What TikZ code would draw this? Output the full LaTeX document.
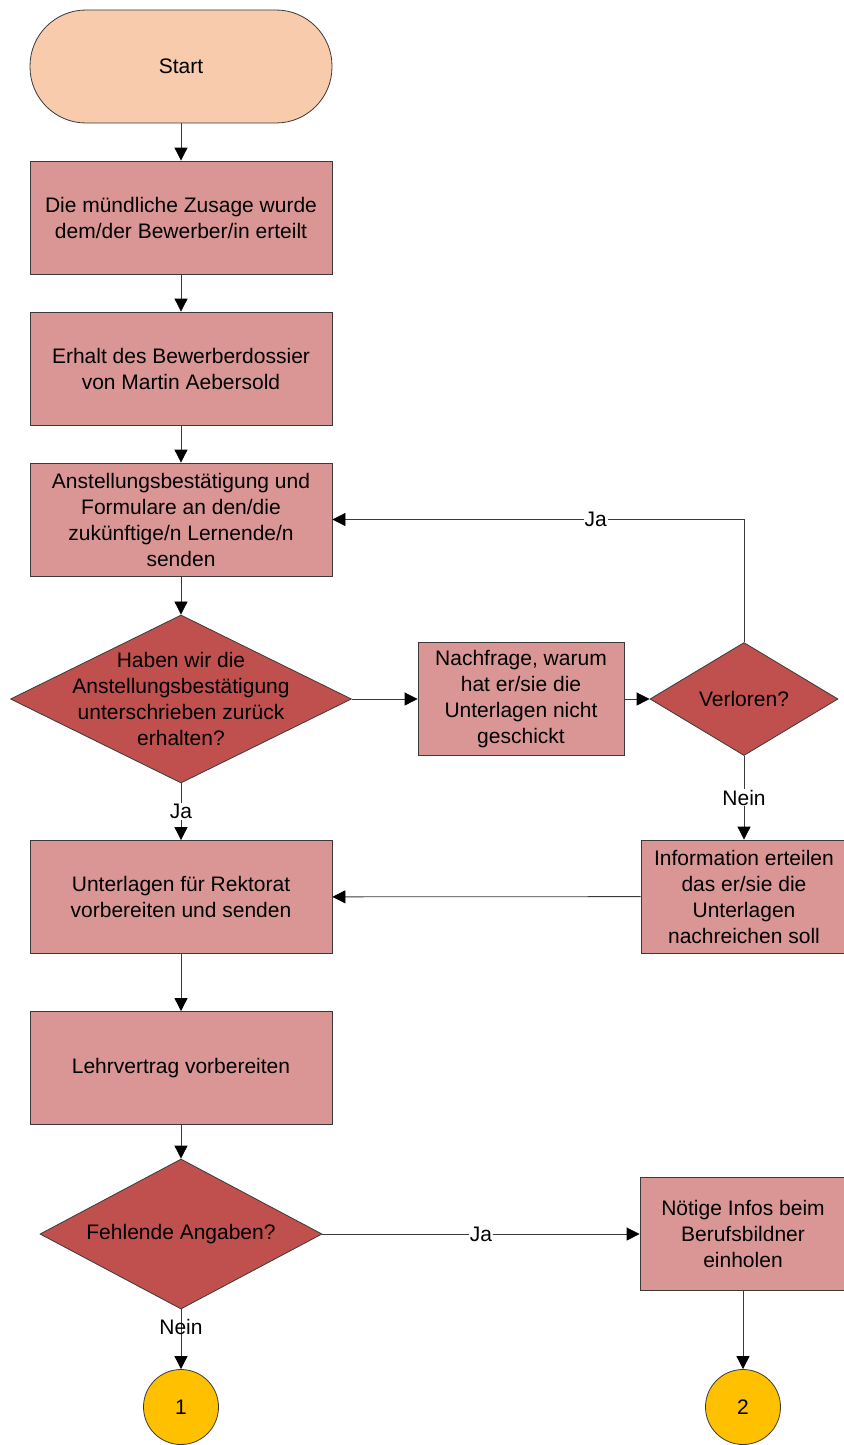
\documentclass[tikz,border=0pt]{standalone}
\usepackage{fontspec}
\setmainfont{Liberation Sans}
\usetikzlibrary{shapes,arrows.meta}
\definecolor{startfill}{HTML}{F8CBAD}
\definecolor{blockfill}{HTML}{DA9694}
\definecolor{decfill}{HTML}{C0504D}
\definecolor{connfill}{HTML}{FFC000}
\definecolor{linecol}{HTML}{3A3A3A}
\tikzset{
    base/.style = {draw=linecol, line width=0.8pt, align=center, inner sep=0pt,
        font=\fontsize{21}{26}\selectfont},
    terminal/.style = {base, rectangle, rounded corners=56pt, fill=startfill,
        minimum width=302pt, minimum height=113pt},
    block/.style = {base, rectangle, fill=blockfill,
        minimum width=302pt, minimum height=113pt},
    smallblock/.style = {base, rectangle, fill=blockfill,
        minimum width=206pt, minimum height=113pt},
    decision/.style = {base, diamond, fill=decfill},
    dectext/.style = {align=center, font=\fontsize{21}{26}\selectfont},
    connector/.style = {base, circle, fill=connfill, minimum size=75pt},
    arrow/.style = {draw=linecol, line width=0.8pt, -{Triangle[length=13pt,width=13pt,color=black]}},
    edgelabel/.style = {fill=white, inner sep=1pt, font=\fontsize{21}{26}\selectfont}
}

\begin{document}
\begin{tikzpicture}
    \useasboundingbox (0,0) rectangle (843pt,-1445pt);
    % left column
    \node [terminal] (start) at (181pt,-66.5pt) {Start};
    \node [block, below of=start, node distance=151pt] (zusage) {Die mündliche Zusage wurde\\dem/der Bewerber/in erteilt};
    \node [block, below of=zusage, node distance=151pt] (dossier) {Erhalt des Bewerberdossier\\von Martin Aebersold};
    \node [block, below of=dossier, node distance=151pt] (bestaetigung) {Anstellungsbestätigung und\\Formulare an den/die\\zukünftige/n Lernende/n\\senden};
    \node [decision, below of=bestaetigung, node distance=179.5pt, minimum width=341pt, minimum height=168pt,
        label={[dectext]center:{Haben wir die\\Anstellungsbestätigung\\unterschrieben zurück\\erhalten?}}] (zurueck) {};
    \node [block, below of=zurueck, node distance=198pt] (rektorat) {Unterlagen für Rektorat\\vorbereiten und senden};
    \node [block, below of=rektorat, node distance=171pt] (lehrvertrag) {Lehrvertrag vorbereiten};
    \node [decision, below of=lehrvertrag, node distance=166pt, minimum width=282pt, minimum height=150pt,
        label={[dectext]center:{Fehlende Angaben?}}] (fehlend) {};
    \node [connector, below of=fehlend, node distance=173pt] (con1) {1};
    % right column
    \node [smallblock, right of=zurueck, node distance=340pt] (nachfrage) {Nachfrage, warum\\hat er/sie die\\Unterlagen nicht\\geschickt};
    \node [decision, right of=nachfrage, node distance=223pt, minimum width=188pt, minimum height=113pt,
        label={[dectext]center:{Verloren?}}] (verloren) {};
    \node [smallblock, below of=verloren, node distance=197.5pt] (info) {Information erteilen\\das er/sie die\\Unterlagen\\nachreichen soll};
    \node [smallblock, right of=fehlend, node distance=562pt] (infos) {Nötige Infos beim\\Berufsbildner\\einholen};
    \node [connector, below of=infos, node distance=173pt] (con2) {2};
    % connectors
    \draw [arrow] (start) -- (zusage);
    \draw [arrow] (zusage) -- (dossier);
    \draw [arrow] (dossier) -- (bestaetigung);
    \draw [arrow] (bestaetigung) -- (zurueck);
    \draw [arrow] (zurueck) -- (nachfrage);
    \draw [arrow] (nachfrage) -- (verloren);
    \draw [arrow] (verloren.north) |- node [edgelabel, pos=0.68] {Ja} (bestaetigung.east);
    \draw [arrow] (verloren) -- node [edgelabel] {Nein} (info);
    \draw [arrow] (info) -- (rektorat);
    \draw [arrow] (zurueck) -- node [edgelabel] {Ja} (rektorat);
    \draw [arrow] (rektorat) -- (lehrvertrag);
    \draw [arrow] (lehrvertrag) -- (fehlend);
    \draw [arrow] (fehlend) -- node [edgelabel] {Ja} (infos);
    \draw [arrow] (fehlend) -- node [edgelabel, fill=none, pos=0.3] {Nein} (con1);
    \draw [arrow] (infos) -- (con2);
\end{tikzpicture}
\end{document}
